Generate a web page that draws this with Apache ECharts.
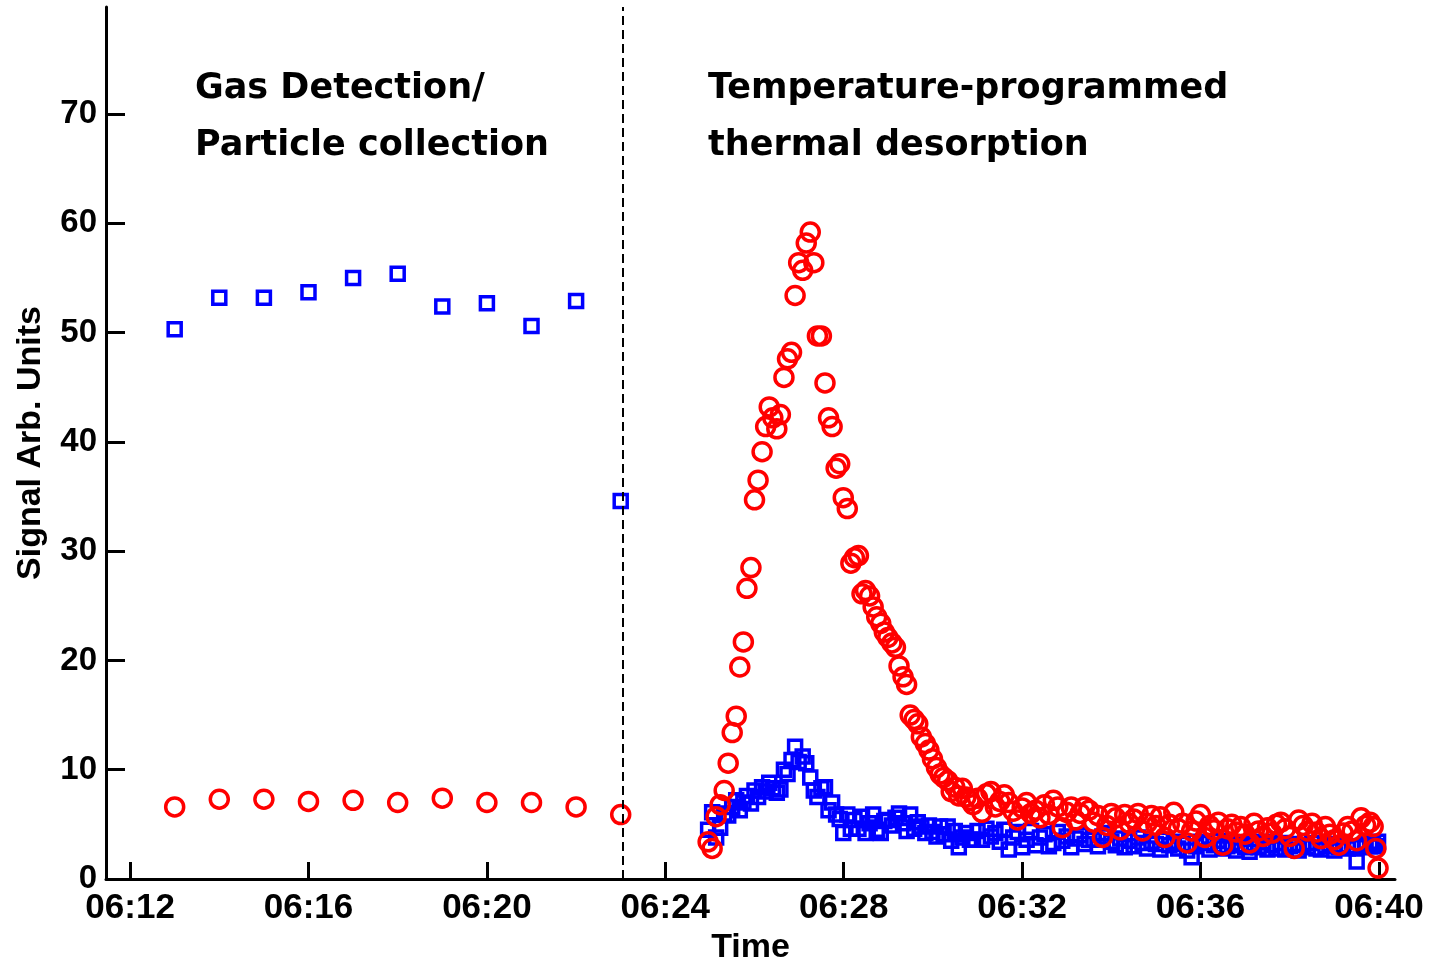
<!DOCTYPE html>
<html>
<head>
<meta charset="utf-8">
<title>Signal vs Time</title>
<script src="https://cdn.jsdelivr.net/npm/echarts@6/dist/echarts.min.js"></script>
<style>
    html, body { margin: 0; padding: 0; background: #fff; }
    #main { width: 1433px; height: 957px; }
</style>
</head>
<body>
<div id="main"></div>
<script>
// times are minutes after 06:00
const collectTime = [13, 14, 15, 16, 17, 18, 19, 20, 21, 22, 23]
const collectBlue = [50.3, 53.2, 53.2, 53.7, 55.0, 55.4, 52.4, 52.7, 50.6, 52.9, 34.6]
const collectRed = [6.6, 7.3, 7.3, 7.1, 7.2, 7.0, 7.4, 7.0, 7.0, 6.6, 5.9]

const tpdTime = [
    24.96, 25.05, 25.14, 25.23, 25.32, 25.41, 25.50, 25.59, 25.67, 25.75,
    25.83, 25.92, 26.00, 26.08, 26.17, 26.25, 26.33, 26.41, 26.50, 26.58,
    26.66, 26.74, 26.83, 26.91, 26.99, 27.08, 27.16, 27.25, 27.33, 27.41,
    27.50, 27.58, 27.66, 27.74, 27.83, 27.91, 27.99, 28.08, 28.16, 28.24,
    28.33, 28.41, 28.49, 28.58, 28.66, 28.74, 28.83, 28.91, 28.99, 29.08,
    29.16, 29.24, 29.33, 29.41, 29.49, 29.58, 29.66, 29.74, 29.83, 29.91,
    29.99, 30.08, 30.16, 30.24, 30.33, 30.41, 30.49, 30.58, 30.66, 30.74,
    30.83,
    30.9, 31.0, 31.1, 31.2, 31.3, 31.4, 31.5, 31.6, 31.7, 31.8,
    31.9, 32.0, 32.1, 32.2, 32.3, 32.4, 32.5, 32.6, 32.7, 32.8,
    32.9, 33.0, 33.1, 33.2, 33.3, 33.4, 33.5, 33.6, 33.7, 33.8,
    33.9, 34.0, 34.1, 34.2, 34.3, 34.4, 34.5, 34.6, 34.7, 34.8,
    34.9, 35.0, 35.1, 35.2, 35.3, 35.4, 35.5, 35.6, 35.7, 35.8,
    35.9, 36.0, 36.1, 36.2, 36.3, 36.4, 36.5, 36.6, 36.7, 36.8,
    36.9, 37.0, 37.1, 37.2, 37.3, 37.4, 37.5, 37.6, 37.7, 37.8,
    37.9, 38.0, 38.1, 38.2, 38.3, 38.4, 38.5, 38.6, 38.7, 38.8,
    38.9, 39.0, 39.1, 39.2, 39.3, 39.4, 39.5, 39.6, 39.7, 39.8,
    39.87, 39.93, 39.98
]
const tpdRed = [
    3.4, 2.8, 5.7, 6.8, 8.1, 10.6, 13.4, 14.9, 19.4, 21.7,
    26.6, 28.5, 34.7, 36.5, 39.1, 41.4, 43.2, 42.2, 41.2, 42.5,
    45.9, 47.6, 48.2, 53.4, 56.4, 55.7, 58.2, 59.2, 56.4, 49.7,
    49.7, 45.4, 42.2, 41.4, 37.6, 38.0, 34.9, 33.9, 28.9, 29.4,
    29.6, 26.1, 26.4, 25.9, 24.9, 24.0, 23.4, 22.6, 22.1, 21.6,
    21.2, 19.5, 18.5, 17.8, 15.0, 14.6, 14.2, 13.0, 12.4, 11.8,
    11.0, 10.2, 9.6, 9.3, 9.0, 8.0, 8.4, 7.6, 8.3, 7.5,
    7.2,
    6.8, 7.4, 6.1, 7.8, 8.0, 6.6, 7.1, 7.7, 7.0, 6.2,
    5.4, 6.5, 7.0, 6.0, 6.3, 5.6, 6.8, 5.9, 7.2, 6.6,
    4.7, 6.1, 6.6, 5.4, 6.0, 6.6, 6.3, 5.2, 5.8, 3.8,
    4.9, 6.0, 5.6, 4.5, 5.9, 5.1, 5.5, 6.0, 4.4, 5.1,
    5.8, 4.9, 5.7, 3.8, 5.0, 6.1, 4.6, 5.1, 3.3, 4.4,
    5.3, 5.9, 3.8, 4.9, 4.5, 5.2, 3.1, 4.6, 5.0, 4.3,
    4.8, 4.1, 3.3, 5.1, 4.4, 3.9, 4.7, 4.2, 5.0, 5.2,
    4.6, 3.9, 2.8, 5.4, 4.9, 4.4, 5.1, 4.3, 3.7, 4.8,
    4.1, 3.6, 3.1, 4.2, 4.8, 4.4, 3.5, 5.6, 4.9, 5.2,
    4.8, 2.8, 1.0
]
const tpdBlue = [
    4.5, 6.1, 3.8, 4.7, 6.0, 5.8, 6.6, 7.2, 6.3, 7.0,
    7.6, 6.9, 8.1, 7.5, 8.4, 8.0, 8.8, 8.3, 7.9, 8.2,
    10.0, 9.6, 10.9, 12.1, 10.7, 11.2, 10.6, 9.3, 8.1, 7.5,
    8.3, 8.4, 6.3, 7.0, 5.9, 5.5, 4.2, 5.9, 4.6, 5.4,
    4.6, 5.7, 4.2, 5.1, 5.9, 4.5, 4.2, 5.3, 5.4, 4.9,
    5.6, 6.0, 5.1, 4.4, 5.9, 4.6, 5.2, 4.8, 4.2, 4.9,
    4.3, 3.9, 4.8, 4.1, 4.8, 3.5, 4.4, 2.9, 3.8, 4.2,
    3.6,
    3.6, 4.4, 3.6, 4.6, 3.9, 4.2, 3.4, 4.5, 2.7, 3.8,
    4.3, 2.9, 3.6, 4.4, 3.1, 3.8, 4.1, 3.0, 3.3, 4.3,
    3.5, 3.9, 2.9, 3.7, 4.0, 3.2, 3.6, 3.6, 3.0, 3.9,
    4.2, 3.4, 3.1, 3.7, 2.9, 3.5, 3.0, 3.8, 3.3, 2.8,
    3.4, 3.2, 2.7, 3.6, 3.1, 3.4, 2.8, 3.2, 2.6, 2.0,
    3.0, 3.4, 3.3, 2.7, 3.1, 3.5, 2.8, 3.0, 3.3, 2.6,
    3.1, 2.9, 2.5, 3.2, 2.9, 3.4, 2.7, 3.1, 2.8, 3.3,
    2.7, 3.0, 3.2, 2.6, 3.1, 2.9, 3.3, 2.8, 2.7, 3.0,
    3.2, 2.6, 2.9, 3.1, 2.8, 3.0, 1.6, 2.9, 3.2, 3.0,
    3.3, 3.0, 3.4
]

const xTicks = [12, 16, 20, 24, 28, 32, 36, 40]
const yTicks = [0, 10, 20, 30, 40, 50, 60, 70]
const switchTime = 23.05

const pairs = (xs, ys) => xs.map((x, i) => [x, ys[i]])
const blueData = pairs(collectTime, collectBlue).concat(pairs(tpdTime, tpdBlue))
const redData = pairs(collectTime, collectRed).concat(pairs(tpdTime, tpdRed))

const fmtTime = v => {
    const m = Math.round(v)
    return '06:' + (m < 10 ? '0' + m : m)
}

const axisFont = 'Liberation Sans, Arial, sans-serif'
const titleFont = 'DejaVu Sans, sans-serif'

const chart = echarts.init(document.getElementById('main'))
chart.setOption({
    animation: false,
    backgroundColor: '#fff',
    title: [{
        text: 'Gas Detection/\nParticle collection',
        left: 190, top: 55,
        textStyle: { fontFamily: titleFont, fontWeight: 'bold', fontSize: 35, lineHeight: 57, color: '#000' }
    }, {
        text: 'Temperature-programmed\nthermal desorption',
        left: 703, top: 55,
        textStyle: { fontFamily: titleFont, fontWeight: 'bold', fontSize: 35, lineHeight: 57, color: '#000' }
    }],
    grid: { left: 106, top: 7, right: 38, bottom: 78, containLabel: false, outerBoundsMode: 'none' },
    xAxis: {
        type: 'value',
        min: 11.46, max: 40.36,
        name: 'Time',
        nameLocation: 'middle',
        nameGap: 42,
        nameTextStyle: { fontFamily: axisFont, fontWeight: 'bold', fontSize: 34, color: '#000' },
        axisLine: { show: true, lineStyle: { color: '#000', width: 3 } },
        axisTick: { show: true, inside: true, length: 17, customValues: xTicks, lineStyle: { color: '#000', width: 3 } },
        axisLabel: { customValues: xTicks, formatter: fmtTime, margin: 12, fontFamily: axisFont, fontWeight: 'bold', fontSize: 35, color: '#000' },
        splitLine: { show: false }
    },
    yAxis: {
        type: 'value',
        min: 0, max: 79.8,
        name: 'Signal Arb. Units',
        nameLocation: 'middle',
        nameGap: 58,
        nameTextStyle: { fontFamily: axisFont, fontWeight: 'bold', fontSize: 34, color: '#000' },
        axisLine: { show: true, lineStyle: { color: '#000', width: 3 } },
        axisTick: { show: true, inside: true, length: 19, customValues: yTicks, lineStyle: { color: '#000', width: 3 } },
        axisLabel: { customValues: yTicks, margin: 9, fontFamily: axisFont, fontWeight: 'bold', fontSize: 33, color: '#000' },
        splitLine: { show: false }
    },
    series: [{
        name: 'blue',
        type: 'scatter',
        symbol: 'rect',
        symbolSize: 13,
        itemStyle: { color: 'rgba(0,0,0,0)', borderColor: '#0000ff', borderWidth: 3.5, opacity: 1 },
        data: blueData,
        markLine: {
            silent: true,
            symbol: 'none',
            label: { show: false },
            lineStyle: { color: '#000', width: 2, type: [9, 5] },
            data: [{ xAxis: switchTime }]
        }
    }, {
        name: 'red',
        type: 'scatter',
        symbol: 'circle',
        symbolSize: 18,
        itemStyle: { color: 'rgba(0,0,0,0)', borderColor: '#ff0000', borderWidth: 3.5, opacity: 1 },
        data: redData
    }]
})
</script>
</body>
</html>
